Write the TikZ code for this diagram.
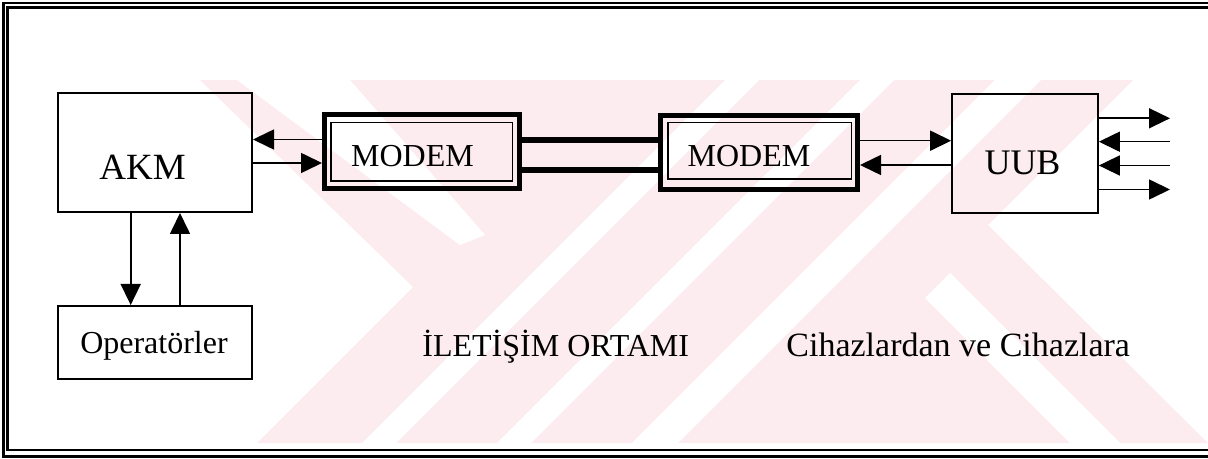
\documentclass[tikz,border=0pt]{standalone}
\usepackage{fontspec}
\setmainfont{Liberation Serif}
\usetikzlibrary{arrows.meta}
\definecolor{wm}{RGB}{253,236,239}
\begin{document}
\begin{tikzpicture}[x=0.5pt,y=-0.5pt,
  box/.style={draw,line width=1pt,inner sep=0pt},
  outerbox/.style={draw,line width=2.5pt,inner sep=0pt},
  innerbox/.style={draw,line width=0.75pt,inner sep=0pt},
  lbl/.style={inner sep=0pt,anchor=base},
  conn/.style={line width=0.8pt,-{Triangle[length=10.5pt,width=10pt]}},
  link/.style={line width=3pt},
  frame/.style={line width=1.1pt},
]
\useasboundingbox (0,0) rectangle (1208,459);
% watermark
\begin{scope}
\clip (200,80) -- (1133,80) -- (988,225) -- (1208,443) -- (257,443) -- (413,287) -- cycle;
\fill[wm] (0,0) rectangle (1208,459);
\fill[white] (237,80) -- (350,80) -- (485,235) -- (460,245) -- cycle;
\fill[white] (725,80) -- (759,80) -- (396,443) -- (362,443) -- cycle;
\fill[white] (860,80) -- (894,80) -- (531,443) -- (497,443) -- cycle;
\fill[white] (995,80) -- (1041,80) -- (678,443) -- (632,443) -- cycle;
\fill[white] (925,298) -- (950,273) -- (1120,443) -- (1070,443) -- cycle;
\end{scope}
% frame
\draw[frame] (1208,3) -- (3.5,3) -- (3.5,456.5) -- (1208,456.5);
\draw[frame] (1208,7.5) -- (7.5,7.5) -- (7.5,450) -- (1208,450);
% boxes
\node[box,minimum width=97pt,minimum height=59.5pt] (akm) at (155,152.5) {};
\node[lbl,font=\fontsize{18.5}{20}\selectfont] (akmt) at (142.5,180) {AKM};
\node[box,minimum width=97.3pt,minimum height=36.5pt] (op) at (155,342.5) {};
\node[lbl,font=\fontsize{16}{18}\selectfont] (opt) at (154,353) {Operatörler};
\node[outerbox,minimum width=97.5pt,minimum height=36.85pt] (m1o) at (422,151.7) {};
\node[innerbox,minimum width=90.75pt,minimum height=29.25pt] (m1i) at (421.5,151.7) {};
\node[lbl,font=\fontsize{16}{18}\selectfont] (m1t) at (412.5,166.7) {MODEM};
\node[outerbox,minimum width=98.5pt,minimum height=37pt] (m2o) at (759,152.5) {};
\node[innerbox,minimum width=91.75pt,minimum height=28.25pt] (m2i) at (759.5,151) {};
\node[lbl,font=\fontsize{16}{18}\selectfont] (m2t) at (749,167) {MODEM};
\node[box,minimum width=72.85pt,minimum height=59.5pt] (uub) at (1025,153.8) {};
\node[lbl,font=\fontsize{18}{20}\selectfont] (uubt) at (1022.5,175) {UUB};
% texts
\node[lbl,anchor=base west,font=\fontsize{16}{18}\selectfont] (ilt) at (422,357) {İLETİŞİM ORTAMI};
\node[lbl,anchor=base west,font=\fontsize{17}{19}\selectfont] (cih) at (786,357) {Cihazlardan ve Cihazlara};
% helper coordinates
\coordinate (ya) at (0,139.5);
\coordinate (yb) at (0,163);
\coordinate (yl1) at (0,139.7);
\coordinate (yl2) at (0,169.7);
\coordinate (yc) at (0,140.7);
\coordinate (yd) at (0,165);
\coordinate (ye) at (0,118.3);
\coordinate (yf) at (0,141.7);
\coordinate (yg) at (0,165.5);
\coordinate (yh) at (0,189.5);
\coordinate (xr) at (1170,0);
\coordinate (xd) at (130.7,0);
\coordinate (xu) at (180,0);
% connectors
\draw[conn] (m1o.west |- ya) -- (akm.east |- ya);
\draw[conn] (akm.east |- yb) -- (m1o.west |- yb);
\draw[link] (m1o.east |- yl1) -- (m2o.west |- yl1);
\draw[link] (m1o.east |- yl2) -- (m2o.west |- yl2);
\draw[conn] (m2o.east |- yc) -- (uub.west |- yc);
\draw[conn] (uub.west |- yd) -- (m2o.east |- yd);
\draw[conn] (uub.east |- ye) -- (xr |- ye);
\draw[conn] (xr |- yf) -- (uub.east |- yf);
\draw[conn] (xr |- yg) -- (uub.east |- yg);
\draw[conn] (uub.east |- yh) -- (xr |- yh);
\draw[conn] (akm.south -| xd) -- (op.north -| xd);
\draw[conn] (op.north -| xu) -- (akm.south -| xu);
\end{tikzpicture}
\end{document}
